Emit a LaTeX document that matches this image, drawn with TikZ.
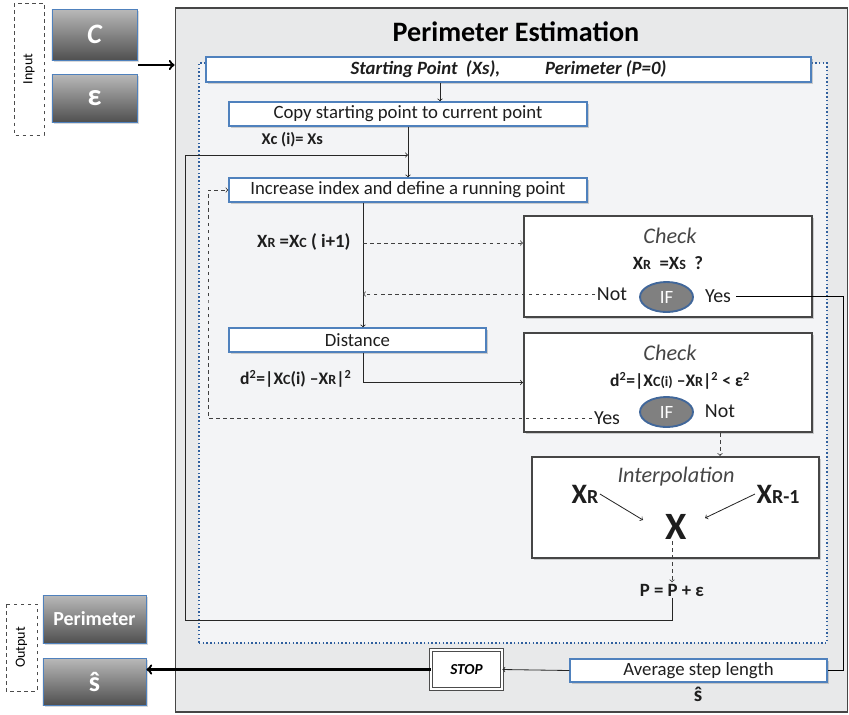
\documentclass[tikz,border=0pt]{standalone}
\usepackage{fontspec}
\setmainfont{Carlito}
\usetikzlibrary{shadows,shapes.geometric}
\definecolor{framefill}{RGB}{232,233,234}
\definecolor{framedraw}{RGB}{70,70,70}
\definecolor{areafill}{RGB}{243,244,246}
\definecolor{areadots}{RGB}{47,95,158}
\definecolor{boxblue}{RGB}{79,129,189}
\definecolor{ifgray}{RGB}{128,128,128}
\definecolor{ifblue}{RGB}{65,103,154}
\definecolor{btntop}{RGB}{185,185,185}
\definecolor{btnbottom}{RGB}{80,80,80}
\definecolor{inktext}{RGB}{30,30,30}
\definecolor{checktext}{RGB}{70,70,70}
\newcommand\lowsub[1]{{\fontsize{12}{14}\selectfont #1}}
\tikzstyle{every path}=[line width=0.7pt]
\tikzstyle{outerframe}=[draw=framedraw, fill=framefill, line width=1.6pt]
\tikzstyle{area}=[draw=areadots, fill=areafill, dotted, line width=1.2pt]
\tikzstyle{stepbox}=[draw=boxblue, fill=white, line width=1.1pt, inner sep=0pt, text=inktext, font=\fontsize{16}{18}\selectfont, drop shadow={shadow xshift=1.5pt, shadow yshift=-1.5pt, opacity=0.35}]
\tikzstyle{checkbox}=[draw=framedraw, fill=white, line width=1.8pt, drop shadow={shadow xshift=1.5pt, shadow yshift=-1.5pt, opacity=0.35}]
\tikzstyle{ifnode}=[ellipse, draw=ifblue, fill=ifgray, line width=1.6pt, text=white, minimum width=1.59cm, minimum height=0.9cm, inner sep=0pt, font=\fontsize{16}{18}\selectfont]
\tikzstyle{button}=[draw=boxblue, top color=btntop, bottom color=btnbottom, line width=0.8pt, text=white, inner sep=0pt, drop shadow={shadow xshift=1.5pt, shadow yshift=-1.5pt, opacity=0.3}]
\tikzstyle{sidebox}=[draw=black!70, dashed, fill=white, line width=0.6pt, rotate=90, inner sep=0pt, font=\fontsize{12}{14}\selectfont]
\tikzstyle{formula}=[text=inktext, font=\bfseries\fontsize{14}{16}\selectfont, inner sep=1pt]
\tikzstyle{answer}=[text=inktext, font=\fontsize{17}{19}\selectfont, inner sep=1pt]
\tikzstyle{heading}=[text=checktext, font=\itshape\fontsize{19}{21}\selectfont, inner sep=1pt]
\tikzstyle{flow}=[->, draw=black!85]
\tikzstyle{back}=[->, dashed, draw=black!75]
\tikzstyle{bigarrow}=[->, line width=2pt, draw=black]

\begin{document}
\begin{tikzpicture}[x=0.03cm, y=-0.03cm]
\useasboundingbox (0,0) rectangle (849,714);
\node[outerframe, minimum width=20.16cm, minimum height=21.12cm] (estim) at (511.5,360) {};
\node[text=black, font=\bfseries\fontsize{24}{28}\selectfont] (title) at (516,32) {Perimeter Estimation};
\node[area, minimum width=18.84cm, minimum height=17.4cm] (area) at (513,353) {};
\node[sidebox, minimum width=3.96cm, minimum height=0.9cm] (inputbox) at (29,69) {Input};
\node[sidebox, minimum width=2.61cm, minimum height=0.93cm] (outputbox) at (21.5,647.5) {Output};
\node[button, minimum width=2.55cm, minimum height=1.53cm, font=\bfseries\itshape\fontsize{24}{26}\selectfont] (cbtn) at (94.5,34.5) {C};
\node[button, minimum width=2.55cm, minimum height=1.44cm, font=\bfseries\fontsize{26}{28}\selectfont] (epsbtn) at (94.5,98) {ε};
\node[button, minimum width=3.09cm, minimum height=1.44cm, font=\bfseries\fontsize{17}{19}\selectfont] (perbtn) at (94.5,619) {Perimeter};
\node[button, minimum width=3.09cm, minimum height=1.41cm, font=\bfseries\fontsize{24}{26}\selectfont] (shat) at (94.5,681.5) {ŝ};
\node[stepbox, minimum width=18.15cm, minimum height=0.75cm, font=\bfseries\itshape\fontsize{16}{18}\selectfont] (start) at (508.5,69.5) {Starting Point~ (Xs),\hspace{1.35cm}Perimeter (P=0)};
\node[stepbox, minimum width=10.74cm, minimum height=0.72cm] (copy) at (408,114) {Copy starting point to current point};
\node[stepbox, minimum width=10.74cm, minimum height=0.72cm] (incr) at (408,190) {Increase index and define a running point};
\node[stepbox, minimum width=7.71cm, minimum height=0.72cm] (dist) at (357.5,340) {Distance};
\node[checkbox, minimum width=8.64cm, minimum height=3.03cm] (chk1) at (668,266.5) {};
\node[checkbox, minimum width=8.64cm, minimum height=2.97cm] (chk2) at (668,382.5) {};
\node[checkbox, minimum width=8.61cm, minimum height=3.03cm] (interp) at (675.5,507.5) {};
\node[stepbox, minimum width=7.71cm, minimum height=0.69cm] (avg) at (698.5,670.5) {Average step length};
\node[draw=black!70, double=white, double distance=2pt, fill=white, line width=0.8pt, minimum width=2.13cm, minimum height=1.17cm, font=\bfseries\itshape\fontsize{13}{15}\selectfont, drop shadow={shadow xshift=1.5pt, shadow yshift=-1.5pt, opacity=0.35}] (stop) at (466.5,669.5) {STOP};
\node[formula, anchor=west] (xcs) at (260,140) {Xc (i)= Xs};
\node[formula, anchor=east, font=\bfseries\fontsize{16}{18}\selectfont] (xrlabel) at (352,242) {X\lowsub{R} =X\lowsub{C} ( i+1)};
\node[formula, anchor=east, font=\bfseries\fontsize{15}{17}\selectfont] (dlabel) at (353,379) {d\textsuperscript{2}=|X\lowsub{C}(i) –X\lowsub{R}|\textsuperscript{2}};
\node[heading] (chkhead1) at (670,236) {Check};
\node[formula, font=\bfseries\fontsize{16}{18}\selectfont] (xrxs) at (668,263) {X\lowsub{R} ~=X\lowsub{S} ~?};
\node[ifnode] (if1) at (666.5,297) {IF};
\node[answer] (not1) at (612,294) {Not};
\node[answer] (yes1) at (718,296) {Yes};
\node[heading] (chkhead2) at (670,353) {Check};
\node[formula, font=\bfseries\fontsize{15}{17}\selectfont] (dtest) at (680,381) {d\textsuperscript{2}=|X\lowsub{C(i)} –X\lowsub{R}|\textsuperscript{2} < ε\textsuperscript{2}};
\node[ifnode] (if2) at (666.5,412) {IF};
\node[answer] (yes2) at (607,418) {Yes};
\node[answer] (not2) at (720,411) {Not};
\node[heading] (interphead) at (676,477) {Interpolation};
\node[formula, font=\bfseries\fontsize{24}{26}\selectfont] (xra) at (585,494) {X{\fontsize{17}{19}\selectfont R}};
\node[formula, font=\bfseries\fontsize{24}{26}\selectfont] (xr1) at (778,494) {X{\fontsize{17}{19}\selectfont R-1}};
\node[formula, font=\bfseries\fontsize{33}{35}\selectfont] (xx) at (676,527) {X};
\node[formula, font=\bfseries\fontsize{16}{18}\selectfont] (pe) at (672,590) {P = P + ε};
\node[formula, font=\bfseries\fontsize{18}{20}\selectfont] (savg) at (698,694) {ŝ};
\coordinate (c1) at (440,0);
\coordinate (vx) at (363,0);
\coordinate (inp) at (138,65);
\coordinate (loopcorner) at (185,620);
\coordinate (loopend) at (408,155);
\coordinate (dleft) at (208,300);
\coordinate (xrc) at (363,243);
\coordinate (rcorner) at (843,500);
\coordinate (xhitl) at (643,520);
\coordinate (xhitr) at (705,518);
\draw[bigarrow] (inp) -- (inp -| estim.west);
\draw[flow] (start.south -| c1) -- (copy.north -| c1);
\draw[flow] (copy.south) -- (incr.north);
\draw[flow] (pe.south) |- (loopcorner) |- (loopend);
\draw[back] (yes2.west) -| (dleft) |- (incr.west);
\draw[flow] (incr.south -| vx) -- (dist.north -| vx);
\draw[back] (xrc) -- (xrc -| chk1.west);
\draw[back] (not1.west) -- (not1.west -| vx);
\draw[flow] (dist.south -| vx) |- (chk2.west);
\draw[shorten <=3pt] (yes1.east) -| (rcorner) |- (avg.east);
\draw[back] (not2 |- chk2.south) -- (not2 |- interp.north);
\draw[flow] (xra.east) -- (xhitl);
\draw[flow] (xr1.west) -- (xhitr);
\draw[back] (xx.south -| pe) -- (pe.north);
\draw[flow] (avg.west) -- (stop.east);
\draw[bigarrow] (stop.west) -- (stop.west -| shat.east);
\end{tikzpicture}
\end{document}
